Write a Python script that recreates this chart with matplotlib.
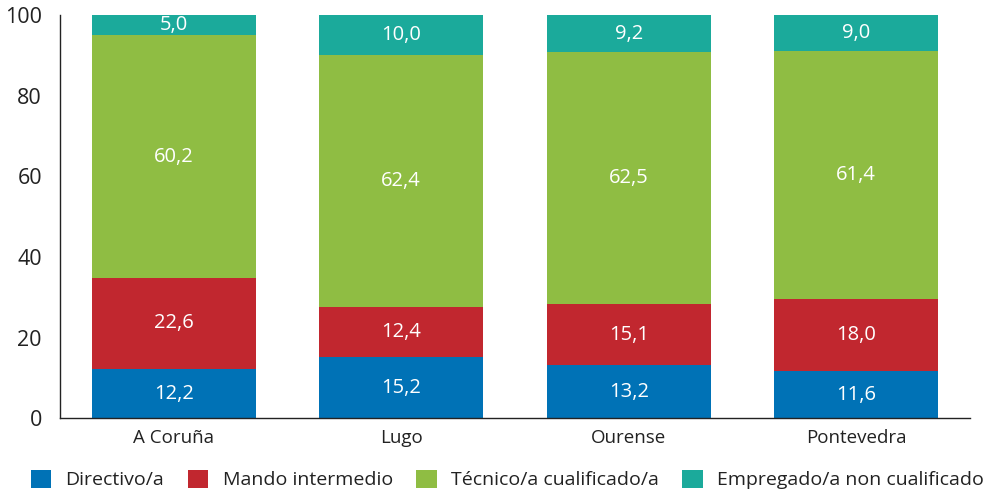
import numpy as np
import matplotlib.pyplot as plt

plt.rcParams['font.family'] = ['Open Sans', 'DejaVu Sans']

# Data
provincias = ['A Coruña', 'Lugo', 'Ourense', 'Pontevedra']
categorias = ['Directivo/a', 'Mando intermedio', 'Técnico/a cualificado/a',
              'Empregado/a non cualificado']
directivo = [12.2, 15.2, 13.2, 11.6]
mando = [22.6, 12.4, 15.1, 18.0]
tecnico = [60.2, 62.4, 62.5, 61.4]
empregado = [5.0, 10.0, 9.2, 9.0]

colores = ['#0072b6', '#c1272f', '#8fbd43', '#1baa9b']

fig = plt.figure(figsize=(10, 4.92), dpi=100)
ax = fig.add_axes([0.06, 0.150, 0.91, 0.8195])

x = np.arange(len(provincias))
bottom = np.zeros(len(provincias))
for serie, nombre, col in zip([directivo, mando, tecnico, empregado], categorias, colores):
    vals = np.array(serie)
    ax.bar(x, vals, width=0.72, bottom=bottom, color=col, label=nombre)
    for xi, b, v in zip(x, bottom, vals):
        ax.text(xi, b + v / 2, f'{v:.1f}'.replace('.', ','), ha='center', va='center',
                color='white', fontsize=14.5)
    bottom += vals

ax.set_xlim(-0.5, 3.5)
ax.set_ylim(0, 100)
ax.set_yticks([0, 20, 40, 60, 80, 100])
ax.set_xticks(x)
ax.set_xticklabels(provincias)
ax.tick_params(axis='both', length=0, labelsize=13.5, colors='#222222')
ax.tick_params(axis='y', pad=13, labelsize=15.5)
ax.tick_params(axis='x', pad=8)
for s in ['top', 'right']:
    ax.spines[s].set_visible(False)
for s in ['left', 'bottom']:
    ax.spines[s].set_color('#222222')
    ax.spines[s].set_linewidth(1)

fig.legend(loc='lower left', bbox_to_anchor=(0.013, -0.03), ncol=4, frameon=False,
           fontsize=14, handlelength=1.05, handleheight=1.05, handletextpad=0.75,
           columnspacing=1.2, labelcolor='#222222')

fig.savefig('out.png', dpi=100)
